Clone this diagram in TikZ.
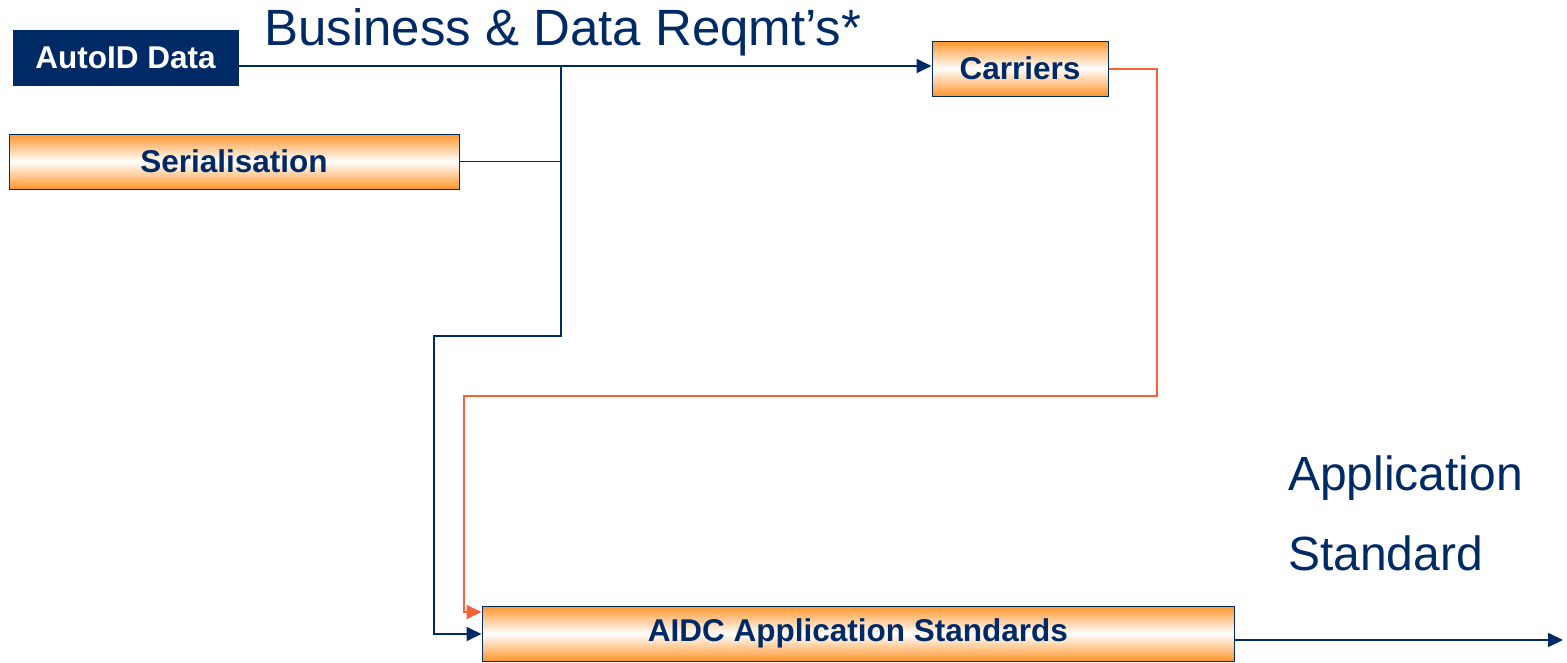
\documentclass[tikz,border=0pt]{standalone}
\usepackage{fontspec}
\setmainfont{Liberation Sans}
\usetikzlibrary{arrows.meta}
\definecolor{navy}{RGB}{0,42,102}
\definecolor{boxorange}{RGB}{255,150,45}
\definecolor{lineorange}{RGB}{242,100,56}
\begin{document}
\begin{tikzpicture}[x=1pt,y=-1pt,
  gbox/.style={draw=navy, line width=1pt, top color=boxorange, bottom color=boxorange, middle color=white,
    font=\fontsize{31.5}{36}\selectfont\bfseries, text=navy, inner sep=0pt, minimum height=55pt},
  dbox/.style={draw=navy, line width=1pt, fill=navy,
    font=\fontsize{31.5}{36}\selectfont\bfseries, text=white, inner sep=0pt, minimum height=55pt},
  conn/.style={draw=navy, line width=1.8pt},
  oconn/.style={draw=lineorange, line width=1.8pt},
  tipn/.style={-{Triangle[length=15pt,width=14pt]}},
  bigtext/.style={text=navy, inner sep=0pt, anchor=base west}
]
\useasboundingbox (0,0) rectangle (1567,662);

\node[dbox, minimum width=225pt] (auto) at (125.5,57.5) {AutoID Data};
\node[gbox, minimum width=450pt] (ser) at (234,161.5) {Serialisation};
\node[gbox, minimum width=176pt] (car) at (1020,68.5) {Carriers};
\node[gbox, minimum width=752pt] (aidc) at (858,633.5) {\raisebox{-2pt}{AIDC Application Standards}};

\node[bigtext, font=\fontsize{51}{60}\selectfont] (title) at (264,45) {Business \& Data Reqmt’s*};
\node[bigtext, font=\fontsize{48}{56}\selectfont] (app1) at (1288,490) {Application};
\node[bigtext, font=\fontsize{48}{56}\selectfont] (app2) at (1288,570) {Standard};

\coordinate (j1) at (561,66);
\coordinate (j2) at (561,336);
\coordinate (j3) at (434,336);
\coordinate (j4) at (434,634);
\coordinate (o1) at (1157,69);
\coordinate (o2) at (1157,396);
\coordinate (o3) at (464,396);
\coordinate (o4) at (464,612);
\coordinate (out) at (1563,640);

\draw[conn, tipn] (auto.east |- j1) -- (car.west |- j1);
\draw[conn] (ser.east) -- (ser.east -| j1);
\draw[conn, tipn] (j1) -- (j2) -- (j3) -- (j4) -- (aidc.west |- j4);
\draw[oconn, tipn] (car.east |- o1) -- (o1) -- (o2) -- (o3) -- (o4) -- (aidc.west |- o4);
\draw[conn, tipn] (aidc.east |- out) -- (out);
\end{tikzpicture}
\end{document}
